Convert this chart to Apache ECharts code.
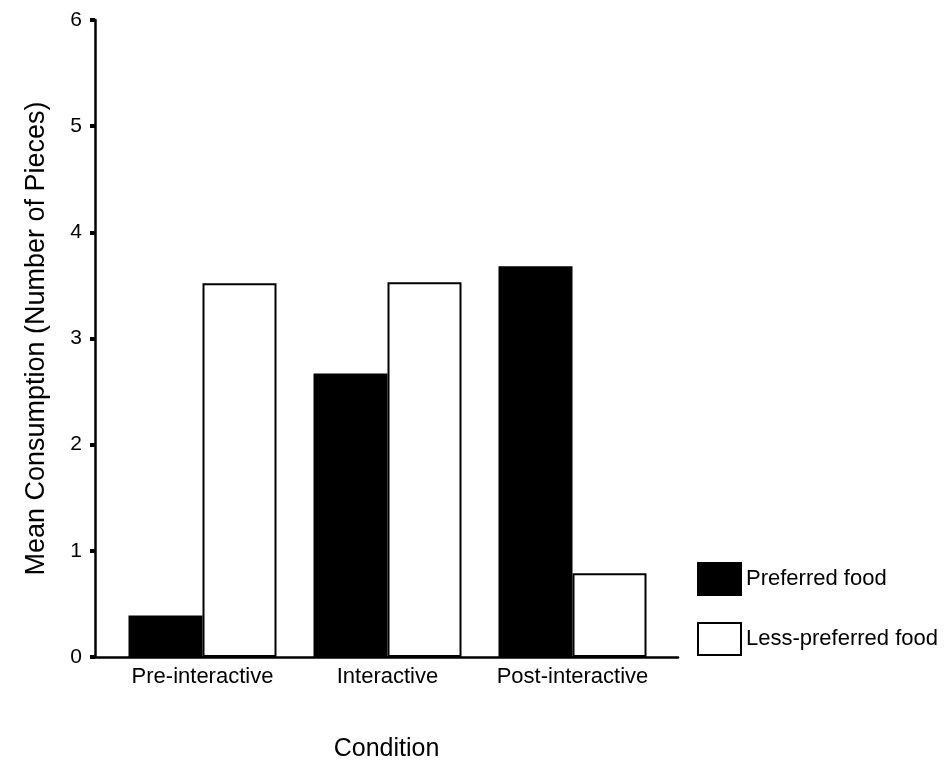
<!DOCTYPE html>
<html>
<head>
<meta charset="utf-8">
<script src="https://cdn.jsdelivr.net/npm/echarts@6/dist/echarts.min.js"></script>
<style>html,body{margin:0;padding:0;background:#fff}#c{width:949px;height:762px}</style>
</head>
<body>
<div id="c"></div>
<script>
const categories = ['Pre-interactive', 'Interactive', 'Post-interactive'];
const preferred = [0.39, 2.67, 3.68];
const lessPreferred = [3.52, 3.53, 0.79];
const yTicks = [0, 1, 2, 3, 4, 5, 6];

const font = 'Liberation Sans, Arial, sans-serif';
const yMin = yTicks[0], yMax = yTicks[yTicks.length - 1];
const chart = echarts.init(document.getElementById('c'), null, {renderer: 'canvas'});
chart.setOption({
  animation: false,
  backgroundColor: '#fff',
  textStyle: {fontFamily: font, color: '#000'},
  grid: [
    {left: 95, top: 20, width: 583, height: 637, containLabel: false, outerBoundsMode: 'none'},
    {left: 110, top: 20, width: 555, height: 637, containLabel: false, outerBoundsMode: 'none'}
  ],
  legend: {
    orient: 'vertical', left: 692, top: 557, itemWidth: 43, itemHeight: 32, itemGap: 26,
    textStyle: {fontFamily: font, fontSize: 22, color: '#000'},
    data: [
      {name: 'Preferred food', icon: 'rect', itemStyle: {color: '#000', borderColor: '#000', borderWidth: 2}},
      {name: 'Less-preferred food', icon: 'rect', itemStyle: {color: '#fff', borderColor: '#000', borderWidth: 2}}
    ]
  },
  xAxis: [
    {
      gridIndex: 0, type: 'value', min: 0, max: 1,
      name: 'Condition', nameLocation: 'middle', nameGap: 80,
      nameTextStyle: {fontFamily: font, fontSize: 25, color: '#000'},
      axisLine: {show: true, lineStyle: {color: '#000', width: 2.5}},
      axisTick: {show: false}, axisLabel: {show: false}, splitLine: {show: false}
    },
    {
      gridIndex: 1, type: 'category', data: categories,
      axisLine: {show: false},
      axisTick: {alignWithLabel: true, length: 4, lineStyle: {color: '#000', width: 4}},
      axisLabel: {fontFamily: font, fontSize: 22, color: '#000', margin: 9, interval: 0}
    }
  ],
  yAxis: [
    {
      gridIndex: 0, type: 'value', min: yMin, max: yMax, interval: 1,
      name: 'Mean Consumption (Number of Pieces)', nameLocation: 'middle', nameGap: 45,
      nameTextStyle: {fontFamily: font, fontSize: 27, color: '#000'},
      axisLine: {show: true, lineStyle: {color: '#000', width: 2.5}},
      axisTick: {show: true, length: 5, lineStyle: {color: '#000', width: 4}},
      axisLabel: {fontFamily: font, fontSize: 21, color: '#000', margin: 13},
      splitLine: {show: false}
    },
    {
      gridIndex: 1, type: 'value', min: yMin, max: yMax, interval: 1, show: false,
      splitLine: {show: false}
    }
  ],
  series: [
    {name: 'Preferred food', type: 'bar', xAxisIndex: 1, yAxisIndex: 1, data: preferred,
     barWidth: 74, barGap: '0%',
     itemStyle: {color: '#000', borderColor: '#000', borderWidth: 2}},
    {name: 'Less-preferred food', type: 'bar', xAxisIndex: 1, yAxisIndex: 1, data: lessPreferred,
     barWidth: 74, barGap: '0%',
     itemStyle: {color: '#fff', borderColor: '#000', borderWidth: 2}}
  ]
});
</script>
</body>
</html>
